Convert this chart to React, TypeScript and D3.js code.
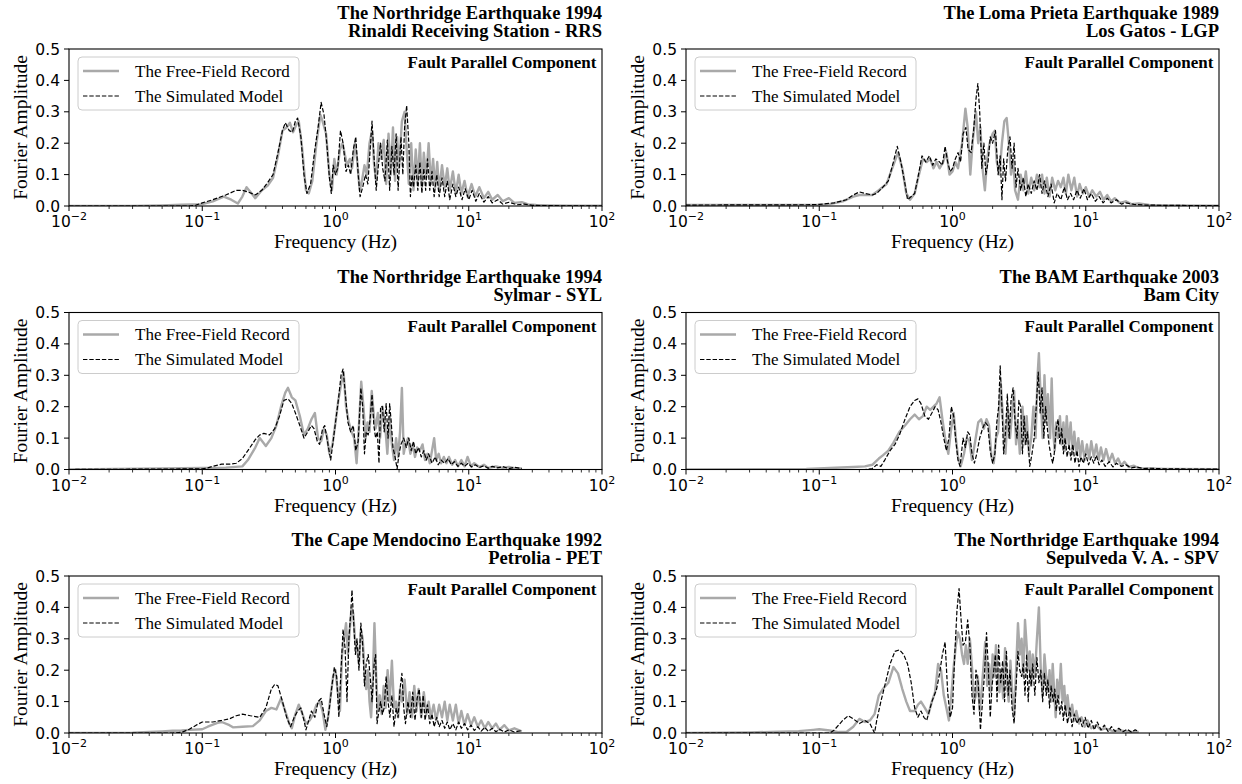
import React from "react";
import * as d3 from "d3";

type Pt = [number, number];

// Fourier amplitude spectra: [frequency (Hz), amplitude]

const rrsRecord: Pt[] = [
  [0.01, 0], [0.03, 0], [0.05, 0.002], [0.07, 0.004], [0.1, 0.006], [0.12, 0.015], [0.145, 0.03], [0.165, 0.02],
  [0.185, 0.008], [0.2, 0.03], [0.215, 0.06], [0.235, 0.04], [0.25, 0.025], [0.28, 0.05], [0.31, 0.065], [0.34, 0.09],
  [0.37, 0.16], [0.4, 0.24], [0.43, 0.25], [0.455, 0.265], [0.48, 0.235], [0.51, 0.26], [0.53, 0.27], [0.56, 0.19],
  [0.6, 0.05], [0.63, 0.04], [0.67, 0.08], [0.72, 0.2], [0.77, 0.29], [0.8, 0.27], [0.85, 0.23], [0.9, 0.1],
  [0.94, 0.05], [0.98, 0.15], [1.02, 0.1], [1.08, 0.18], [1.13, 0.2], [1.18, 0.16], [1.22, 0.13], [1.28, 0.15],
  [1.33, 0.12], [1.4, 0.2], [1.45, 0.15], [1.52, 0.05], [1.58, 0.08], [1.65, 0.13], [1.72, 0.1], [1.8, 0.2],
  [1.88, 0.24], [1.95, 0.13], [2.02, 0.08], [2.1, 0.2], [2.2, 0.15], [2.3, 0.21], [2.4, 0.07], [2.5, 0.23],
  [2.6, 0.1], [2.7, 0.25], [2.8, 0.08], [2.9, 0.22], [3.0, 0.12], [3.15, 0.27], [3.3, 0.3], [3.4, 0.2],
  [3.55, 0.07], [3.7, 0.2], [3.85, 0.05], [4.0, 0.18], [4.15, 0.08], [4.3, 0.2], [4.45, 0.06], [4.6, 0.17],
  [4.8, 0.09], [5.0, 0.2], [5.2, 0.07], [5.4, 0.15], [5.6, 0.06], [5.8, 0.14], [6.0, 0.05], [6.3, 0.13],
  [6.6, 0.06], [6.9, 0.12], [7.2, 0.05], [7.6, 0.11], [8.0, 0.04], [8.4, 0.1], [8.8, 0.04], [9.3, 0.08],
  [9.8, 0.03], [10.5, 0.07], [11.2, 0.03], [12, 0.06], [13, 0.025], [14, 0.045], [15, 0.02], [16.5, 0.035],
  [18, 0.015], [20, 0.025], [22, 0.01], [25, 0.012], [28, 0.005], [32, 0.003], [40, 0.002], [60, 0.001], [100, 0.001],
];

const rrsModel: Pt[] = [
  [0.01, 0], [0.08, 0], [0.09, 0.003], [0.1, 0.01], [0.12, 0.02], [0.15, 0.035], [0.18, 0.05], [0.2, 0.05],
  [0.22, 0.045], [0.25, 0.035], [0.28, 0.05], [0.31, 0.075], [0.34, 0.1], [0.37, 0.17], [0.4, 0.24], [0.42, 0.265],
  [0.45, 0.24], [0.475, 0.235], [0.5, 0.27], [0.52, 0.28], [0.55, 0.22], [0.58, 0.1], [0.61, 0.04], [0.65, 0.07],
  [0.7, 0.18], [0.74, 0.25], [0.78, 0.33], [0.82, 0.29], [0.86, 0.2], [0.9, 0.09], [0.93, 0.04], [0.96, 0.13],
  [1.0, 0.1], [1.04, 0.12], [1.09, 0.24], [1.14, 0.2], [1.2, 0.11], [1.25, 0.13], [1.3, 0.1], [1.36, 0.18],
  [1.42, 0.22], [1.48, 0.1], [1.53, 0.03], [1.6, 0.06], [1.68, 0.1], [1.75, 0.07], [1.82, 0.18], [1.88, 0.27],
  [1.95, 0.15], [2.02, 0.05], [2.1, 0.13], [2.18, 0.2], [2.26, 0.12], [2.35, 0.08], [2.45, 0.21], [2.55, 0.05],
  [2.65, 0.19], [2.75, 0.1], [2.85, 0.23], [2.95, 0.05], [3.1, 0.22], [3.2, 0.1], [3.3, 0.25], [3.42, 0.32],
  [3.55, 0.2], [3.65, 0.03], [3.75, 0.1], [3.85, 0.06], [4.0, 0.13], [4.15, 0.05], [4.3, 0.14], [4.45, 0.04],
  [4.6, 0.12], [4.75, 0.05], [4.9, 0.15], [5.1, 0.05], [5.3, 0.11], [5.5, 0.03], [5.75, 0.1], [6.0, 0.03],
  [6.3, 0.09], [6.6, 0.03], [6.9, 0.08], [7.2, 0.02], [7.6, 0.07], [8.0, 0.03], [8.4, 0.06], [8.9, 0.02],
  [9.4, 0.055], [10, 0.02], [10.6, 0.05], [11.3, 0.015], [12, 0.04], [13, 0.012], [14, 0.03], [15, 0.01],
  [16.5, 0.02], [18, 0.006], [20, 0.012], [23, 0.004], [26, 0.006], [30, 0.002], [40, 0.001], [100, 0],
];

const lgpRecord: Pt[] = [
  [0.01, 0.003], [0.05, 0.003], [0.1, 0.003], [0.12, 0.006], [0.15, 0.015], [0.18, 0.03], [0.2, 0.035], [0.22, 0.035],
  [0.25, 0.035], [0.28, 0.05], [0.32, 0.07], [0.36, 0.13], [0.39, 0.17], [0.42, 0.12], [0.45, 0.04], [0.48, 0.02],
  [0.52, 0.04], [0.56, 0.1], [0.6, 0.15], [0.64, 0.14], [0.68, 0.15], [0.72, 0.12], [0.76, 0.14], [0.8, 0.12],
  [0.85, 0.14], [0.9, 0.17], [0.95, 0.1], [1.0, 0.11], [1.05, 0.14], [1.1, 0.12], [1.18, 0.2], [1.25, 0.31],
  [1.3, 0.25], [1.36, 0.1], [1.42, 0.21], [1.5, 0.3], [1.56, 0.2], [1.62, 0.25], [1.68, 0.12], [1.75, 0.05],
  [1.82, 0.15], [1.9, 0.2], [2.0, 0.23], [2.08, 0.24], [2.15, 0.14], [2.25, 0.1], [2.35, 0.2], [2.45, 0.27],
  [2.55, 0.28], [2.65, 0.2], [2.75, 0.1], [2.85, 0.15], [2.95, 0.05], [3.1, 0.02], [3.25, 0.1], [3.4, 0.05],
  [3.55, 0.11], [3.7, 0.04], [3.9, 0.09], [4.1, 0.05], [4.3, 0.1], [4.5, 0.06], [4.7, 0.1], [4.9, 0.04],
  [5.1, 0.09], [5.35, 0.03], [5.6, 0.09], [5.9, 0.05], [6.2, 0.08], [6.5, 0.06], [6.8, 0.09], [7.1, 0.04],
  [7.4, 0.1], [7.8, 0.05], [8.2, 0.09], [8.6, 0.03], [9.0, 0.07], [9.5, 0.04], [10, 0.06], [10.6, 0.03],
  [11.2, 0.05], [12, 0.03], [12.8, 0.045], [13.6, 0.02], [14.5, 0.035], [15.5, 0.015], [16.5, 0.025], [18, 0.01],
  [20, 0.015], [22, 0.006], [25, 0.008], [30, 0.003], [40, 0.002], [100, 0.001],
];

const lgpModel: Pt[] = [
  [0.01, 0.003], [0.08, 0.004], [0.1, 0.005], [0.13, 0.01], [0.16, 0.02], [0.18, 0.035], [0.2, 0.045], [0.22, 0.04],
  [0.25, 0.035], [0.27, 0.04], [0.3, 0.06], [0.33, 0.08], [0.36, 0.14], [0.385, 0.19], [0.41, 0.14], [0.44, 0.07],
  [0.46, 0.02], [0.49, 0.03], [0.52, 0.04], [0.55, 0.09], [0.59, 0.16], [0.63, 0.14], [0.67, 0.16], [0.71, 0.13],
  [0.75, 0.15], [0.8, 0.14], [0.84, 0.13], [0.88, 0.19], [0.92, 0.14], [0.96, 0.11], [1.0, 0.12], [1.05, 0.15],
  [1.1, 0.17], [1.15, 0.14], [1.2, 0.23], [1.26, 0.25], [1.31, 0.18], [1.38, 0.17], [1.44, 0.24], [1.5, 0.34],
  [1.55, 0.39], [1.6, 0.3], [1.66, 0.12], [1.72, 0.2], [1.78, 0.1], [1.85, 0.14], [1.92, 0.22], [2.0, 0.2],
  [2.1, 0.24], [2.2, 0.1], [2.28, 0.16], [2.35, 0.02], [2.42, 0.15], [2.5, 0.08], [2.6, 0.18], [2.7, 0.22],
  [2.8, 0.12], [2.9, 0.2], [3.0, 0.06], [3.1, 0.12], [3.25, 0.05], [3.4, 0.09], [3.55, 0.03], [3.7, 0.07],
  [3.9, 0.04], [4.1, 0.08], [4.3, 0.05], [4.5, 0.1], [4.7, 0.04], [4.9, 0.08], [5.2, 0.03], [5.5, 0.07],
  [5.8, 0.01], [6.1, 0.04], [6.5, 0.02], [6.9, 0.06], [7.3, 0.02], [7.7, 0.04], [8.1, 0.02], [8.6, 0.05],
  [9.1, 0.025], [9.7, 0.055], [10.3, 0.02], [11, 0.04], [11.8, 0.015], [12.6, 0.03], [13.5, 0.01], [14.5, 0.025],
  [15.5, 0.01], [17, 0.02], [18.5, 0.006], [20, 0.01], [23, 0.005], [28, 0.003], [40, 0.002], [100, 0.001],
];

const sylRecord: Pt[] = [
  [0.01, 0], [0.05, 0.003], [0.1, 0.005], [0.15, 0.006], [0.2, 0.01], [0.22, 0.03], [0.25, 0.07], [0.27, 0.1],
  [0.3, 0.075], [0.33, 0.1], [0.36, 0.14], [0.39, 0.2], [0.42, 0.245], [0.44, 0.26], [0.47, 0.23], [0.5, 0.22],
  [0.54, 0.17], [0.58, 0.11], [0.62, 0.13], [0.66, 0.16], [0.7, 0.18], [0.74, 0.1], [0.78, 0.09], [0.82, 0.13],
  [0.86, 0.11], [0.9, 0.05], [0.95, 0.08], [1.0, 0.15], [1.05, 0.22], [1.1, 0.27], [1.15, 0.31], [1.2, 0.2],
  [1.26, 0.15], [1.32, 0.12], [1.38, 0.1], [1.44, 0.02], [1.5, 0.14], [1.56, 0.28], [1.62, 0.2], [1.68, 0.1],
  [1.74, 0.15], [1.8, 0.12], [1.87, 0.25], [1.94, 0.17], [2.0, 0.13], [2.08, 0.18], [2.16, 0.1], [2.25, 0.2],
  [2.35, 0.15], [2.45, 0.05], [2.55, 0.17], [2.65, 0.08], [2.75, 0.03], [2.85, 0.1], [2.95, 0.04], [3.05, 0.12],
  [3.15, 0.26], [3.25, 0.05], [3.35, 0.08], [3.5, 0.1], [3.65, 0.05], [3.8, 0.08], [3.95, 0.04], [4.1, 0.07],
  [4.3, 0.06], [4.5, 0.08], [4.7, 0.03], [4.9, 0.05], [5.1, 0.02], [5.3, 0.06], [5.5, 0.1], [5.7, 0.03],
  [5.95, 0.05], [6.2, 0.02], [6.5, 0.04], [6.8, 0.02], [7.1, 0.04], [7.5, 0.015], [7.9, 0.03], [8.3, 0.01],
  [8.8, 0.03], [9.3, 0.01], [9.8, 0.04], [10.4, 0.01], [11, 0.02], [12, 0.008], [13, 0.015], [14, 0.005],
  [16, 0.01], [18, 0.005], [20, 0.008], [22, 0.004], [25, 0.003],
];

const sylModel: Pt[] = [
  [0.01, 0], [0.1, 0.002], [0.11, 0.005], [0.12, 0.01], [0.14, 0.017], [0.16, 0.017], [0.18, 0.02], [0.2, 0.035],
  [0.22, 0.06], [0.25, 0.095], [0.27, 0.11], [0.29, 0.115], [0.32, 0.11], [0.35, 0.13], [0.38, 0.17], [0.41, 0.22],
  [0.44, 0.225], [0.47, 0.21], [0.5, 0.18], [0.54, 0.14], [0.58, 0.1], [0.62, 0.12], [0.66, 0.14], [0.69, 0.13],
  [0.73, 0.09], [0.76, 0.08], [0.8, 0.13], [0.83, 0.14], [0.87, 0.09], [0.92, 0.03], [0.96, 0.09], [1.0, 0.15],
  [1.05, 0.22], [1.1, 0.3], [1.14, 0.32], [1.18, 0.25], [1.24, 0.15], [1.3, 0.12], [1.36, 0.14], [1.42, 0.06],
  [1.48, 0.09], [1.55, 0.26], [1.6, 0.2], [1.65, 0.05], [1.7, 0.12], [1.76, 0.11], [1.82, 0.16], [1.88, 0.24],
  [1.94, 0.14], [2.0, 0.1], [2.06, 0.12], [2.12, 0.02], [2.18, 0.2], [2.25, 0.2], [2.32, 0.12], [2.4, 0.21],
  [2.48, 0.1], [2.55, 0.21], [2.62, 0.15], [2.7, 0.07], [2.8, 0.04], [2.9, 0.002], [3.0, 0.05], [3.1, 0.08],
  [3.25, 0.1], [3.4, 0.07], [3.55, 0.1], [3.7, 0.06], [3.85, 0.09], [4.0, 0.05], [4.2, 0.07], [4.4, 0.04],
  [4.6, 0.06], [4.8, 0.03], [5.0, 0.05], [5.3, 0.02], [5.6, 0.04], [5.9, 0.015], [6.2, 0.03], [6.6, 0.02],
  [7.0, 0.035], [7.4, 0.015], [7.8, 0.025], [8.3, 0.01], [8.8, 0.02], [9.3, 0.01], [9.9, 0.02], [10.5, 0.008],
  [11.2, 0.015], [12, 0.006], [13, 0.012], [14, 0.004], [15, 0.01], [16.5, 0.005], [18, 0.009], [20, 0.003],
  [22, 0.007], [25, 0.003],
];

const bamRecord: Pt[] = [
  [0.01, 0], [0.08, 0.002], [0.12, 0.005], [0.18, 0.008], [0.22, 0.01], [0.25, 0.015], [0.28, 0.035], [0.3, 0.045],
  [0.33, 0.06], [0.36, 0.085], [0.4, 0.12], [0.44, 0.14], [0.48, 0.16], [0.52, 0.175], [0.56, 0.16], [0.6, 0.17],
  [0.64, 0.2], [0.68, 0.19], [0.72, 0.2], [0.76, 0.21], [0.8, 0.23], [0.84, 0.16], [0.88, 0.1], [0.93, 0.05],
  [0.97, 0.12], [1.02, 0.18], [1.06, 0.1], [1.1, 0.04], [1.15, 0.01], [1.22, 0.05], [1.28, 0.1], [1.34, 0.09],
  [1.4, 0.03], [1.48, 0.09], [1.56, 0.15], [1.64, 0.16], [1.72, 0.13], [1.8, 0.16], [1.88, 0.14], [1.96, 0.04],
  [2.04, 0.02], [2.12, 0.1], [2.2, 0.12], [2.3, 0.28], [2.4, 0.15], [2.5, 0.05], [2.6, 0.2], [2.7, 0.1],
  [2.8, 0.18], [2.9, 0.25], [3.0, 0.08], [3.1, 0.15], [3.2, 0.05], [3.35, 0.2], [3.5, 0.08], [3.6, 0.17],
  [3.75, 0.05], [3.9, 0.1], [4.05, 0.2], [4.2, 0.1], [4.35, 0.3], [4.45, 0.37], [4.6, 0.22], [4.75, 0.1],
  [4.9, 0.3], [5.05, 0.15], [5.2, 0.24], [5.4, 0.1], [5.55, 0.29], [5.7, 0.12], [5.85, 0.06], [6.0, 0.15],
  [6.2, 0.1], [6.4, 0.17], [6.6, 0.08], [6.8, 0.15], [7.0, 0.06], [7.2, 0.17], [7.45, 0.08], [7.7, 0.15],
  [7.95, 0.05], [8.2, 0.12], [8.5, 0.05], [8.8, 0.1], [9.1, 0.04], [9.4, 0.09], [9.8, 0.03], [10.2, 0.08],
  [10.6, 0.035], [11, 0.09], [11.5, 0.04], [12, 0.08], [12.5, 0.03], [13, 0.07], [13.6, 0.03], [14.2, 0.065],
  [15, 0.025], [15.8, 0.05], [16.6, 0.02], [17.5, 0.035], [18.5, 0.012], [19.5, 0.025], [21, 0.008], [23, 0.012],
  [25, 0.004], [30, 0.003], [40, 0.002], [100, 0.001],
];

const bamModel: Pt[] = [
  [0.01, 0], [0.22, 0], [0.25, 0.003], [0.27, 0.015], [0.29, 0.01], [0.31, 0.03], [0.34, 0.06], [0.37, 0.08],
  [0.4, 0.11], [0.44, 0.16], [0.48, 0.2], [0.52, 0.22], [0.55, 0.225], [0.58, 0.21], [0.62, 0.17], [0.66, 0.16],
  [0.7, 0.18], [0.74, 0.2], [0.78, 0.19], [0.82, 0.15], [0.86, 0.1], [0.9, 0.06], [0.94, 0.1], [0.98, 0.2],
  [1.02, 0.17], [1.06, 0.09], [1.1, 0.03], [1.14, 0.01], [1.2, 0.1], [1.25, 0.07], [1.3, 0.12], [1.35, 0.11],
  [1.4, 0.05], [1.46, 0.02], [1.52, 0.05], [1.6, 0.1], [1.68, 0.13], [1.76, 0.15], [1.84, 0.14], [1.92, 0.06],
  [2.0, 0.02], [2.08, 0.05], [2.15, 0.15], [2.22, 0.2], [2.28, 0.33], [2.35, 0.2], [2.42, 0.05], [2.5, 0.12],
  [2.58, 0.24], [2.66, 0.1], [2.75, 0.22], [2.85, 0.26], [2.95, 0.15], [3.05, 0.1], [3.15, 0.22], [3.25, 0.2],
  [3.35, 0.05], [3.45, 0.17], [3.55, 0.08], [3.65, 0.12], [3.8, 0.01], [3.95, 0.05], [4.1, 0.1], [4.25, 0.2],
  [4.4, 0.31], [4.55, 0.18], [4.7, 0.26], [4.85, 0.1], [5.0, 0.2], [5.15, 0.13], [5.3, 0.08], [5.5, 0.04],
  [5.65, 0.02], [5.8, 0.05], [6.0, 0.13], [6.2, 0.16], [6.4, 0.08], [6.6, 0.13], [6.8, 0.05], [7.0, 0.1],
  [7.25, 0.04], [7.5, 0.08], [7.75, 0.03], [8.0, 0.08], [8.3, 0.02], [8.6, 0.06], [8.9, 0.01], [9.2, 0.04],
  [9.6, 0.02], [10, 0.05], [10.5, 0.015], [11, 0.04], [11.5, 0.02], [12, 0.045], [12.6, 0.015], [13.2, 0.03],
  [14, 0.01], [15, 0.025], [16, 0.008], [17, 0.02], [18.5, 0.01], [20, 0.015], [22, 0.005], [24, 0.008],
  [27, 0.003], [30, 0.004], [40, 0.002], [100, 0.001],
];

const petRecord: Pt[] = [
  [0.01, 0], [0.03, 0.001], [0.04, 0.003], [0.05, 0.005], [0.06, 0.007], [0.07, 0.008], [0.08, 0.01], [0.1, 0.012],
  [0.11, 0.02], [0.13, 0.032], [0.14, 0.035], [0.16, 0.025], [0.17, 0.018], [0.2, 0.02], [0.24, 0.022], [0.27, 0.04],
  [0.3, 0.07], [0.33, 0.08], [0.36, 0.075], [0.39, 0.11], [0.42, 0.07], [0.45, 0.03], [0.47, 0.015], [0.5, 0.06],
  [0.53, 0.09], [0.56, 0.065], [0.6, 0.03], [0.64, 0.04], [0.68, 0.06], [0.72, 0.09], [0.76, 0.1], [0.8, 0.07],
  [0.84, 0.01], [0.88, 0.05], [0.92, 0.12], [0.96, 0.18], [1.0, 0.2], [1.04, 0.13], [1.08, 0.07], [1.12, 0.25],
  [1.16, 0.3], [1.2, 0.35], [1.24, 0.25], [1.28, 0.33], [1.32, 0.4], [1.36, 0.38], [1.4, 0.3], [1.45, 0.27],
  [1.5, 0.22], [1.55, 0.33], [1.6, 0.3], [1.65, 0.2], [1.7, 0.14], [1.75, 0.2], [1.8, 0.1], [1.85, 0.05],
  [1.9, 0.15], [1.96, 0.35], [2.02, 0.18], [2.08, 0.07], [2.15, 0.12], [2.22, 0.06], [2.3, 0.15], [2.38, 0.08],
  [2.46, 0.2], [2.55, 0.1], [2.65, 0.23], [2.75, 0.08], [2.85, 0.1], [2.95, 0.05], [3.05, 0.14], [3.15, 0.1],
  [3.3, 0.17], [3.45, 0.06], [3.6, 0.13], [3.75, 0.05], [3.9, 0.15], [4.05, 0.07], [4.2, 0.14], [4.4, 0.05],
  [4.6, 0.13], [4.8, 0.06], [5.0, 0.1], [5.2, 0.05], [5.45, 0.09], [5.7, 0.04], [6.0, 0.09], [6.3, 0.05],
  [6.6, 0.1], [6.9, 0.04], [7.2, 0.09], [7.6, 0.04], [8.0, 0.09], [8.4, 0.03], [8.8, 0.07], [9.3, 0.025],
  [9.8, 0.06], [10.4, 0.025], [11, 0.05], [11.7, 0.02], [12.4, 0.04], [13.2, 0.015], [14, 0.035], [15, 0.015],
  [16, 0.03], [17, 0.01], [18.5, 0.025], [20, 0.008], [22, 0.015], [25, 0.005],
];

const petModel: Pt[] = [
  [0.01, 0], [0.06, 0], [0.07, 0.002], [0.08, 0.012], [0.09, 0.025], [0.1, 0.035], [0.12, 0.035], [0.14, 0.04],
  [0.16, 0.045], [0.18, 0.055], [0.2, 0.06], [0.23, 0.055], [0.27, 0.05], [0.3, 0.08], [0.33, 0.14], [0.35, 0.155],
  [0.37, 0.15], [0.4, 0.1], [0.43, 0.05], [0.46, 0.02], [0.49, 0.05], [0.52, 0.07], [0.55, 0.08], [0.58, 0.04],
  [0.6, 0.01], [0.63, 0.04], [0.66, 0.07], [0.7, 0.05], [0.74, 0.1], [0.78, 0.11], [0.82, 0.06], [0.86, 0.02],
  [0.9, 0.08], [0.94, 0.15], [0.98, 0.21], [1.02, 0.18], [1.06, 0.05], [1.1, 0.2], [1.14, 0.33], [1.18, 0.27],
  [1.22, 0.1], [1.26, 0.3], [1.3, 0.38], [1.33, 0.455], [1.37, 0.35], [1.41, 0.25], [1.45, 0.3], [1.5, 0.2],
  [1.55, 0.35], [1.6, 0.28], [1.65, 0.15], [1.7, 0.22], [1.76, 0.25], [1.82, 0.18], [1.88, 0.1], [1.95, 0.22],
  [2.0, 0.25], [2.05, 0.03], [2.1, 0.06], [2.18, 0.1], [2.25, 0.06], [2.32, 0.08], [2.4, 0.18], [2.48, 0.1],
  [2.56, 0.05], [2.65, 0.12], [2.75, 0.02], [2.85, 0.08], [2.95, 0.05], [3.05, 0.14], [3.15, 0.19], [3.25, 0.08],
  [3.35, 0.03], [3.5, 0.1], [3.65, 0.05], [3.8, 0.13], [3.95, 0.04], [4.1, 0.11], [4.25, 0.14], [4.4, 0.05],
  [4.55, 0.12], [4.7, 0.04], [4.9, 0.09], [5.1, 0.03], [5.3, 0.06], [5.5, 0.02], [5.75, 0.05], [6.0, 0.02],
  [6.3, 0.04], [6.6, 0.015], [6.9, 0.035], [7.2, 0.01], [7.6, 0.03], [8.0, 0.01], [8.4, 0.035], [8.8, 0.015],
  [9.3, 0.03], [9.8, 0.01], [10.4, 0.025], [11, 0.008], [11.7, 0.02], [12.4, 0.006], [13.2, 0.018], [14, 0.005],
  [15, 0.015], [16, 0.004], [17, 0.012], [18.5, 0.003], [20, 0.01], [22, 0.003], [25, 0.008],
];

const spvRecord: Pt[] = [
  [0.01, 0], [0.03, 0.002], [0.05, 0.004], [0.07, 0.006], [0.09, 0.01], [0.1, 0.012], [0.12, 0.008], [0.14, 0.003],
  [0.16, 0.003], [0.18, 0.02], [0.2, 0.045], [0.22, 0.035], [0.24, 0.04], [0.26, 0.06], [0.28, 0.12], [0.3, 0.14],
  [0.33, 0.16], [0.36, 0.21], [0.39, 0.19], [0.42, 0.14], [0.45, 0.1], [0.48, 0.07], [0.52, 0.07], [0.55, 0.09],
  [0.58, 0.1], [0.62, 0.08], [0.66, 0.06], [0.7, 0.1], [0.74, 0.13], [0.78, 0.22], [0.82, 0.2], [0.86, 0.12],
  [0.9, 0.08], [0.94, 0.04], [0.98, 0.12], [1.02, 0.21], [1.06, 0.28], [1.1, 0.32], [1.14, 0.3], [1.18, 0.25],
  [1.22, 0.22], [1.26, 0.28], [1.3, 0.22], [1.35, 0.3], [1.4, 0.21], [1.45, 0.1], [1.5, 0.12], [1.55, 0.18],
  [1.6, 0.07], [1.65, 0.13], [1.7, 0.2], [1.76, 0.29], [1.82, 0.15], [1.88, 0.22], [1.94, 0.13], [2.0, 0.25],
  [2.06, 0.18], [2.12, 0.28], [2.18, 0.2], [2.25, 0.13], [2.32, 0.2], [2.4, 0.11], [2.48, 0.27], [2.56, 0.16],
  [2.64, 0.1], [2.72, 0.23], [2.8, 0.14], [2.9, 0.05], [3.0, 0.2], [3.1, 0.35], [3.2, 0.25], [3.3, 0.3],
  [3.4, 0.18], [3.5, 0.36], [3.6, 0.28], [3.7, 0.2], [3.8, 0.26], [3.9, 0.15], [4.0, 0.25], [4.15, 0.18],
  [4.3, 0.3], [4.45, 0.4], [4.6, 0.2], [4.75, 0.12], [4.9, 0.25], [5.05, 0.18], [5.2, 0.13], [5.35, 0.2],
  [5.5, 0.1], [5.65, 0.22], [5.8, 0.13], [5.95, 0.05], [6.1, 0.17], [6.3, 0.11], [6.5, 0.22], [6.7, 0.1],
  [6.9, 0.15], [7.1, 0.06], [7.3, 0.12], [7.6, 0.05], [7.9, 0.09], [8.2, 0.04], [8.5, 0.07], [8.9, 0.03],
  [9.3, 0.05], [9.8, 0.02], [10.3, 0.04], [11, 0.015], [12, 0.025], [13, 0.01], [14, 0.015], [16, 0.006],
  [18, 0.008], [21, 0.004], [25, 0.003],
];

const spvModel: Pt[] = [
  [0.01, 0], [0.12, 0], [0.13, 0.01], [0.15, 0.04], [0.165, 0.055], [0.18, 0.045], [0.2, 0.03], [0.22, 0.04],
  [0.24, 0.03], [0.25, 0.015], [0.26, 0], [0.27, 0.04], [0.29, 0.1], [0.31, 0.15], [0.34, 0.22], [0.37, 0.26],
  [0.4, 0.265], [0.43, 0.25], [0.46, 0.22], [0.49, 0.16], [0.52, 0.08], [0.55, 0.05], [0.58, 0.07], [0.61, 0.05],
  [0.64, 0.04], [0.67, 0.07], [0.7, 0.1], [0.73, 0.12], [0.76, 0.14], [0.8, 0.19], [0.84, 0.25], [0.88, 0.29],
  [0.92, 0.13], [0.96, 0.05], [1.0, 0.08], [1.04, 0.25], [1.08, 0.39], [1.12, 0.46], [1.16, 0.36], [1.2, 0.28],
  [1.25, 0.29], [1.3, 0.36], [1.35, 0.28], [1.4, 0.12], [1.45, 0.06], [1.5, 0.2], [1.56, 0.16], [1.62, 0.01],
  [1.68, 0.1], [1.74, 0.19], [1.8, 0.32], [1.86, 0.2], [1.92, 0.05], [1.98, 0.15], [2.04, 0.2], [2.1, 0.25],
  [2.16, 0.1], [2.22, 0.28], [2.3, 0.16], [2.38, 0.23], [2.46, 0.1], [2.54, 0.26], [2.62, 0.12], [2.7, 0.2],
  [2.8, 0.08], [2.9, 0.03], [3.0, 0.15], [3.1, 0.26], [3.2, 0.2], [3.3, 0.18], [3.4, 0.22], [3.5, 0.12],
  [3.6, 0.25], [3.7, 0.1], [3.8, 0.2], [3.9, 0.15], [4.0, 0.22], [4.15, 0.12], [4.3, 0.24], [4.45, 0.16],
  [4.6, 0.2], [4.75, 0.1], [4.9, 0.19], [5.05, 0.12], [5.2, 0.17], [5.35, 0.08], [5.5, 0.15], [5.7, 0.1],
  [5.85, 0.14], [6.0, 0.07], [6.2, 0.12], [6.4, 0.06], [6.6, 0.1], [6.8, 0.04], [7.0, 0.09], [7.3, 0.03],
  [7.6, 0.08], [7.9, 0.02], [8.2, 0.06], [8.6, 0.03], [9.0, 0.05], [9.4, 0.02], [9.9, 0.05], [10.4, 0.015],
  [11, 0.04], [11.6, 0.01], [12.2, 0.035], [13, 0.01], [13.8, 0.025], [14.7, 0.005], [15.6, 0.02], [16.6, 0.005],
  [17.7, 0.015], [19, 0.004], [20.5, 0.012], [22, 0.003], [23.5, 0.01], [25, 0.005],
];

const quakes = [
  "The Northridge Earthquake 1994",
  "The Loma Prieta Earthquake 1989",
  "The Northridge Earthquake 1994",
  "The BAM Earthquake 2003",
  "The Cape Mendocino Earthquake 1992",
  "The Northridge Earthquake 1994",
];
const stations = [
  "Rinaldi Receiving Station - RRS",
  "Los Gatos - LGP",
  "Sylmar - SYL",
  "Bam City",
  "Petrolia - PET",
  "Sepulveda V. A. - SPV",
];
const records = [rrsRecord, lgpRecord, sylRecord, bamRecord, petRecord, spvRecord];
const models = [rrsModel, lgpModel, sylModel, bamModel, petModel, spvModel];

const yTicks = [0, 0.1, 0.2, 0.3, 0.4, 0.5];
const xDecades = [-2, -1, 0, 1, 2];
const seriesNames = ["The Free-Field Record", "The Simulated Model"];
const componentLabel = "Fault Parallel Component";
const xLabel = "Frequency (Hz)";
const yLabel = "Fourier Amplitude";

// layout
const W = 1242;
const H = 784;
const colX = [69, 686];
const rowY = [49, 312.5, 576];
const PW = 533;
const PH = 157;

const SERIF = "'Liberation Serif', 'Times New Roman', Times, serif";
const SANS = "'DejaVu Sans', sans-serif";
const GRAY = "#a9a9a9";

function Panel({ idx }: { idx: number }) {
  const x = d3.scaleLog().domain([0.01, 100]).range([0, PW]);
  const y = d3.scaleLinear().domain([0, 0.5]).range([PH, 0]);
  const line = d3
    .line<Pt>()
    .x((d) => x(d[0]))
    .y((d) => y(d[1]));
  const ox = colX[idx % 2];
  const oy = rowY[Math.floor(idx / 2)];
  const clipId = `clip-${idx}`;

  const minor: number[] = [];
  for (let e = -2; e < 2; e++) {
    for (let k = 2; k <= 9; k++) minor.push(k * Math.pow(10, e));
  }

  return (
    <g transform={`translate(${ox},${oy})`}>
      <defs>
        <clipPath id={clipId}>
          <rect x={0} y={-2} width={PW} height={PH + 2} />
        </clipPath>
      </defs>

      {/* titles */}
      <text x={PW} y={-30} textAnchor="end" fontFamily={SERIF} fontWeight="bold" fontSize={18.5} fill="#000">
        {quakes[idx]}
      </text>
      <text x={PW} y={-12} textAnchor="end" fontFamily={SERIF} fontWeight="bold" fontSize={18.5} fill="#000">
        {stations[idx]}
      </text>

      {/* data */}
      <g clipPath={`url(#${clipId})`}>
        <path d={line(records[idx]) || ""} fill="none" stroke={GRAY} strokeWidth={2.4} strokeLinejoin="round" />
        <path
          d={line(models[idx]) || ""}
          fill="none"
          stroke="#000"
          strokeWidth={1.2}
          strokeDasharray="4.4,1.9"
          strokeLinejoin="round"
        />
      </g>

      {/* frame */}
      <rect x={0} y={0} width={PW} height={PH} fill="none" stroke="#000" strokeWidth={1.1} />

      {/* y axis */}
      {yTicks.map((t) => (
        <g key={`y${t}`}>
          <line x1={-5} x2={0} y1={y(t)} y2={y(t)} stroke="#000" strokeWidth={1} />
          <text x={-9} y={y(t)} dy="0.36em" textAnchor="end" fontFamily={SANS} fontSize={15.5} fill="#000">
            {t.toFixed(1)}
          </text>
        </g>
      ))}

      {/* x axis */}
      {minor.map((m) => (
        <line key={`m${m}`} x1={x(m)} x2={x(m)} y1={PH} y2={PH + 3} stroke="#000" strokeWidth={0.8} />
      ))}
      {xDecades.map((e) => (
        <g key={`x${e}`}>
          <line x1={x(Math.pow(10, e))} x2={x(Math.pow(10, e))} y1={PH} y2={PH + 5} stroke="#000" strokeWidth={1} />
          <text x={x(Math.pow(10, e))} y={PH + 21} textAnchor="middle" fontFamily={SANS} fontSize={15.5} fill="#000">
            10
            <tspan fontSize={11} dy={-7}>
              {e < 0 ? `\u2212${-e}` : `${e}`}
            </tspan>
          </text>
        </g>
      ))}

      {/* axis labels */}
      <text x={PW / 2} y={PH + 42} textAnchor="middle" fontFamily={SERIF} fontSize={19.5} fill="#000">
        {xLabel}
      </text>
      <text
        transform={`translate(${-49},${PH / 2}) rotate(-90)`}
        textAnchor="middle"
        dy="0.35em"
        fontFamily={SERIF}
        fontSize={19.5}
        fill="#000"
      >
        {yLabel}
      </text>

      {/* component label */}
      <text x={PW - 5.5} y={19} textAnchor="end" fontFamily={SERIF} fontWeight="bold" fontSize={17} fill="#000">
        {componentLabel}
      </text>

      {/* legend */}
      <g transform="translate(9,8)">
        <rect x={0} y={0} width={221} height={53} rx={4} fill="#fff" fillOpacity={0.8} stroke="#cccccc" strokeWidth={1} />
        <line x1={5} x2={41} y1={14} y2={14} stroke={GRAY} strokeWidth={2.4} />
        <line x1={5} x2={41} y1={39} y2={39} stroke="#000" strokeWidth={1.2} strokeDasharray="4.4,1.9" />
        <text x={57} y={14} dy="0.35em" fontFamily={SERIF} fontSize={17} fill="#000">
          {seriesNames[0]}
        </text>
        <text x={57} y={39} dy="0.35em" fontFamily={SERIF} fontSize={17} fill="#000">
          {seriesNames[1]}
        </text>
      </g>
    </g>
  );
}

export default function App() {
  return (
    <svg width={W} height={H} viewBox={`0 0 ${W} ${H}`} style={{ display: "block", position: "absolute", left: 0, top: 0, background: "#fff" }}>
      <rect x={0} y={0} width={W} height={H} fill="#fff" />
      {quakes.map((_, i) => (
        <Panel key={i} idx={i} />
      ))}
    </svg>
  );
}
